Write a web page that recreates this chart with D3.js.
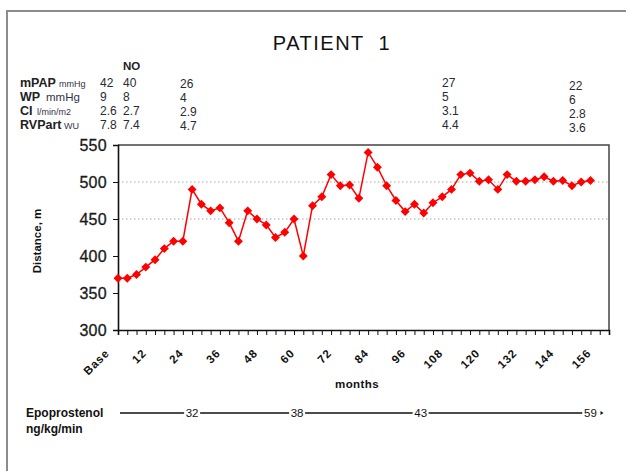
<!DOCTYPE html>
<html>
<head>
<meta charset="utf-8">
<script src="https://cdn.jsdelivr.net/npm/d3@7"></script>
<style>
body { margin: 0; background: #fff; }
text { font-family: "Liberation Sans", Arial, sans-serif; }
</style>
</head>
<body>
<svg id="chart" width="626" height="471"></svg>
<script>
// six minute walk distance, every 3 months
const months = [0, 3, 6, 9, 12, 15, 18, 21, 24, 27, 30, 33, 36, 39, 42, 45, 48, 51, 54, 57,
    60, 63, 66, 69, 72, 75, 78, 81, 84, 87, 90, 93, 96, 99, 102, 105, 108, 111, 114, 117,
    120, 123, 126, 129, 132, 135, 138, 141, 144, 147, 150, 153];
const distance = [370, 370, 375, 385, 395, 410, 420, 420, 490, 470, 461, 465, 445, 420, 461, 450, 442, 425, 432, 450,
    400, 468, 480, 510, 495, 496, 478, 540, 520, 495, 475, 460, 470, 458, 472, 480, 490, 510, 512, 501,
    503, 490, 510, 501, 501, 503, 507, 501, 502, 495, 500, 502];

const tickMonths = [0, 12, 24, 36, 48, 60, 72, 84, 96, 108, 120, 132, 144, 156];
const tickLabels = ["Base", "12", "24", "36", "48", "60", "72", "84", "96", "108", "120", "132", "144", "156"];
const yTicks = [300, 350, 400, 450, 500, 550];
const gridValues = [450, 500];

// haemodynamics table
const rowNames = ["mPAP", "WP", "CI", "RVPart"];
const rowUnits = ["mmHg", "mmHg", "l/min/m2", "WU"];
const mPAP = ["42", "40", "26", "27", "22"];
const WP = ["9", "8", "4", "5", "6"];
const CI = ["2.6", "2.7", "2.9", "3.1", "2.8"];
const RVPart = ["7.8", "7.4", "4.7", "4.4", "3.6"];

// epoprostenol dose (ng/kg/min) and where it sits on the time axis
const doseValues = ["32", "38", "43", "59"];
const doseMonths = [24, 58, 98, 153];

function draw() {
    let svg = d3.select("#chart");

    // outer frame
    svg.append("rect")
        .attr("x", 7).attr("y", 11)
        .attr("width", 700).attr("height", 500)
        .attr("fill", "#fff")
        .attr("stroke", "#8c8c8c")
        .attr("stroke-width", 2);

    let left = 118, right = 609, top = 145, bottom = 330;

    let x = d3.scaleLinear().domain([0, 159]).range([left, right]);
    let y = d3.scaleLinear().domain([300, 550]).range([bottom, top]);

    svg.append("text")
        .attr("x", 332).attr("y", 50)
        .attr("text-anchor", "middle")
        .attr("style", "font-size:20px; letter-spacing:1.5px; white-space:pre; fill:#111")
        .text("PATIENT  1");

    // table above the chart
    let colX = [100, 123, 180, 442, 569];
    let colDy = [0, 0, 1, 0, 3];
    let rowY = [87, 101, 115, 129];
    let unitX = [59, 46, 37, 64];
    let table = [mPAP, WP, CI, RVPart];

    svg.append("text")
        .attr("x", 123).attr("y", 70)
        .attr("style", "font-size:11.5px; font-weight:bold; fill:#222")
        .text("NO");

    rowNames.forEach(function(name, r) {
        svg.append("text")
            .attr("x", 20).attr("y", rowY[r])
            .attr("style", "font-size:12.5px; font-weight:bold; fill:#222")
            .text(name);
        svg.append("text")
            .attr("x", unitX[r]).attr("y", rowY[r])
            .attr("style", "font-size:" + (r == 1 ? 11.5 : 9) + "px; fill:#33334a")
            .text(rowUnits[r]);
        table[r].forEach(function(v, c) {
            svg.append("text")
                .attr("x", colX[c]).attr("y", rowY[r] + colDy[c])
                .attr("style", "font-size:12px; fill:#2a2a33")
                .text(v);
        });
    });

    // grid
    svg.append("g").selectAll("line")
        .data(gridValues)
        .enter()
        .append("line")
        .attr("x1", left).attr("x2", right)
        .attr("y1", y).attr("y2", y)
        .attr("stroke", "#c4c4c4")
        .attr("stroke-width", 1.3)
        .attr("stroke-dasharray", "1.5,2.5");

    // plot frame, top and right
    svg.append("path")
        .attr("d", "M" + left + "," + top + "H" + right + "V" + bottom)
        .attr("fill", "none")
        .attr("stroke", "#444")
        .attr("stroke-width", 1.5);

    // y axis
    let yAxis = d3.axisLeft(y).tickValues(yTicks).tickSize(5).tickPadding(6);
    let gy = svg.append("g").attr("transform", "translate(" + left + ",0)").call(yAxis);
    gy.select(".domain").attr("stroke", "#111").attr("stroke-width", 1.6);
    gy.selectAll(".tick line").attr("stroke", "#111");
    gy.selectAll(".tick text")
        .attr("style", "font-size:16px; fill:#1a1a1a; stroke:#1a1a1a; stroke-width:0.3px; letter-spacing:0.3px; font-family:'Liberation Sans', Arial, sans-serif");

    // x axis: a tick every 3 months, labels every 12
    let xAxis = d3.axisBottom(x).tickValues(d3.range(0, 160, 3)).tickSize(5).tickFormat("");
    let gx = svg.append("g").attr("transform", "translate(0," + bottom + ")").call(xAxis);
    gx.select(".domain").attr("stroke", "#111").attr("stroke-width", 1.6);
    gx.selectAll(".tick line").attr("stroke", "#111");

    svg.append("g").selectAll("text")
        .data(tickMonths)
        .enter()
        .append("text")
        .attr("text-anchor", "end")
        .attr("transform", function(d) {
            return "translate(" + (x(d) - 8) + "," + 354 + ") rotate(-45)";
        })
        .attr("style", "font-size:11.5px; font-weight:bold; fill:#111; letter-spacing:0.8px")
        .text(function(d, i) { return tickLabels[i]; });

    svg.append("text")
        .attr("x", 357).attr("y", 388)
        .attr("text-anchor", "middle")
        .attr("style", "font-size:11.5px; font-weight:bold; fill:#111; letter-spacing:0.4px")
        .text("months");

    svg.append("text")
        .attr("transform", "translate(41,241) rotate(-90)")
        .attr("text-anchor", "middle")
        .attr("style", "font-size:11.5px; font-weight:bold; fill:#111")
        .text("Distance, m");

    // series
    let line = d3.line()
        .x(function(d, i) { return x(months[i]); })
        .y(function(d) { return y(d); });

    svg.append("path")
        .datum(distance)
        .attr("d", line)
        .attr("fill", "none")
        .attr("stroke", "#ff0000")
        .attr("stroke-width", 1.5);

    svg.append("g").selectAll("path")
        .data(distance)
        .enter()
        .append("path")
        .attr("d", d3.symbol().type(d3.symbolSquare).size(40))
        .attr("transform", function(d, i) {
            return "translate(" + x(months[i]) + "," + y(d) + ") rotate(45)";
        })
        .attr("fill", "#ff0000");

    // epoprostenol dose line
    svg.append("text")
        .attr("x", 26).attr("y", 417)
        .attr("style", "font-size:12px; font-weight:bold; fill:#111")
        .text("Epoprostenol");
    svg.append("text")
        .attr("x", 26).attr("y", 433)
        .attr("style", "font-size:12px; font-weight:bold; fill:#111")
        .text("ng/kg/min");

    let lineY = 413;
    svg.append("line")
        .attr("x1", 120).attr("x2", x(153) - 8)
        .attr("y1", lineY).attr("y2", lineY)
        .attr("stroke", "#111")
        .attr("stroke-width", 1.4);

    let dose = svg.append("g").selectAll("g")
        .data(doseValues)
        .enter()
        .append("g")
        .attr("transform", function(d, i) {
            return "translate(" + x(doseMonths[i]) + "," + lineY + ")";
        });
    dose.append("rect")
        .attr("x", -8).attr("y", -7)
        .attr("width", 16).attr("height", 14)
        .attr("fill", "#fff");
    dose.append("text")
        .attr("text-anchor", "middle")
        .attr("y", 4)
        .attr("style", "font-size:11.5px; fill:#111")
        .text(function(d) { return d; });

    svg.append("path")
        .attr("d", "M" + (x(153) + 10) + "," + (lineY - 2) + "l3,2l-3,2z")
        .attr("fill", "#111");
}

draw();
</script>
</body>
</html>
